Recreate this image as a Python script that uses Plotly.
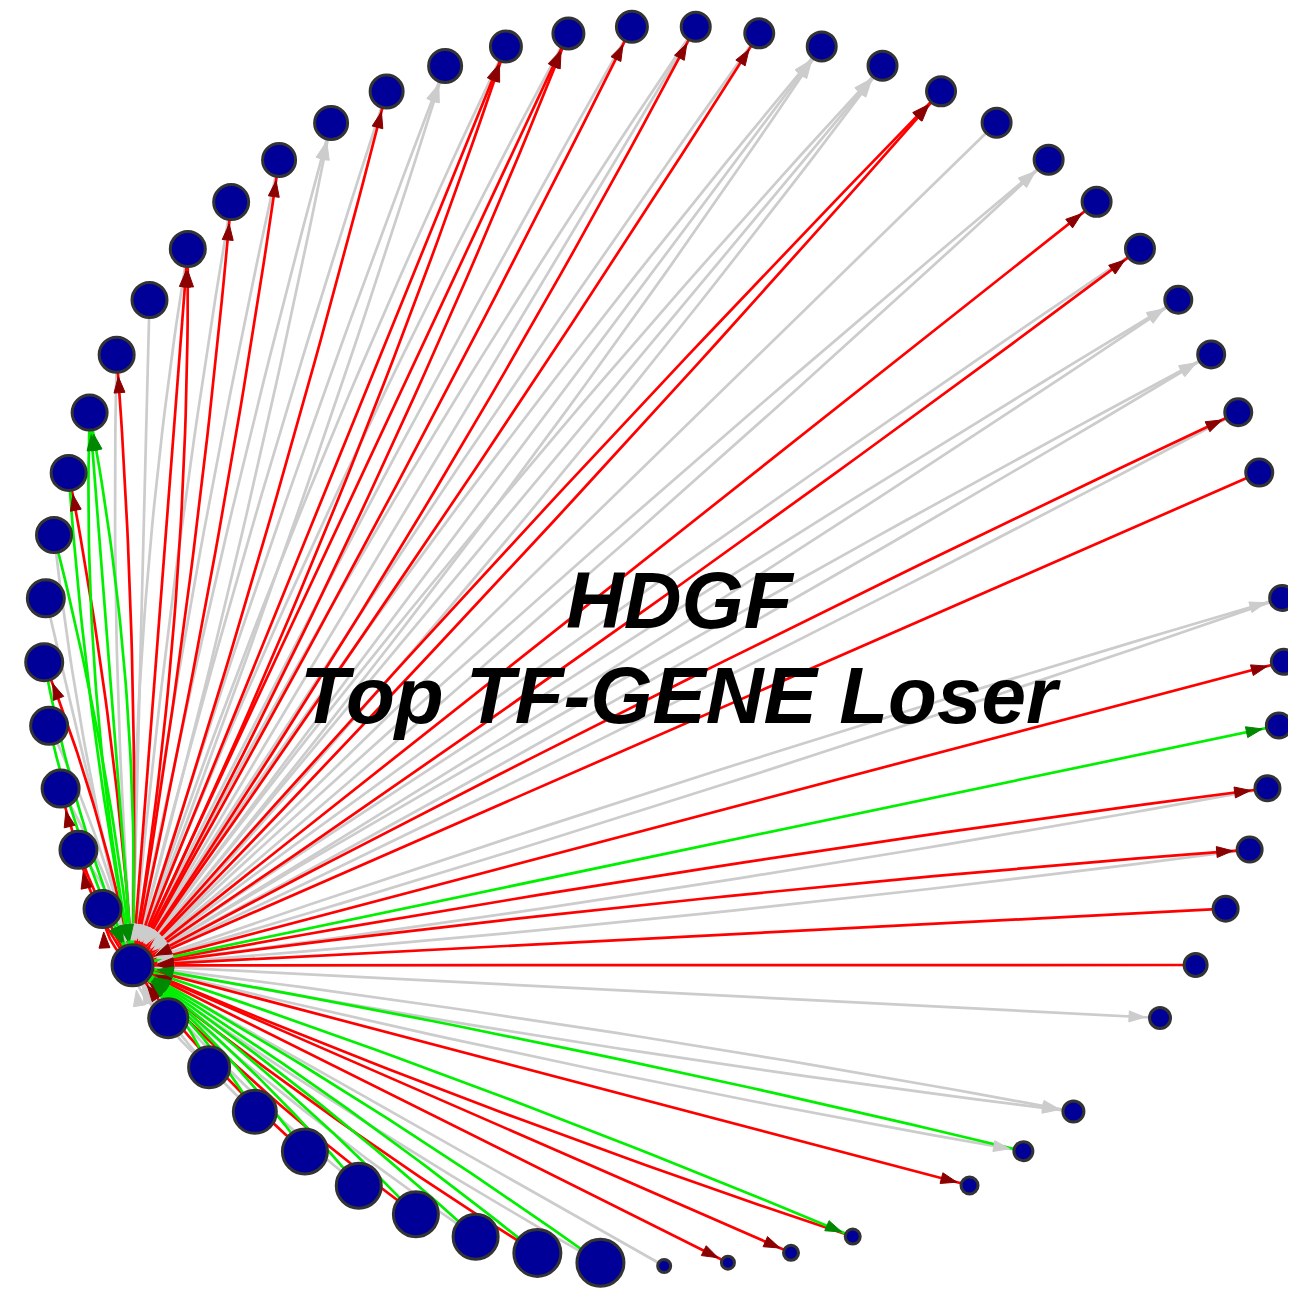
import numpy as np
import plotly.graph_objects as go
from collections import defaultdict

# ---------------- data ----------------
# ring order (clockwise from the hub); None = empty ring slot
ring_nodes = ["HDGF"] + [f"T{i:02d}" for i in range(1, 61)]
empty_slots = [34, 43, 47]
ring_nodes = [None if i in empty_slots else n for i, n in enumerate(ring_nodes)]

# node weight (drives marker size)
node_weight = [2.2,
               2.0, 2.0, 2.0, 2.0, 2.0, 2.0, 1.9, 1.9, 1.9, 1.9,
               1.9, 1.9, 1.9, 1.8, 1.8, 1.8, 1.8, 1.7, 1.7, 1.7,
               1.6, 1.6, 1.6, 1.6, 1.6, 1.6, 1.6, 1.6, 1.6, 1.5,
               1.5, 1.5, 1.5, None, 1.4, 1.4, 1.4, 1.4, 1.4, 1.4,
               1.3, 1.2, None, 1.2, 1.1, 1.0, None, 0.9, 0.9, 0.8,
               0.8, 2.5, 2.5, 2.4, 2.4, 2.4, 2.4, 2.3, 2.2, 2.1]

# edges between the hub (HDGF) and ring node: (ring index, effect, direction)
# direction "out": HDGF -> gene, "in": gene -> HDGF
edges = [
    (1, "none", "in"), (1, "up", "out"),
    (2, "none", "in"), (2, "up", "out"),
    (3, "none", "in"), (3, "up", "out"),
    (4, "none", "in"), (4, "down", "in"),
    (5, "up", "out"), (5, "down", "in"),
    (6, "none", "in"),
    (7, "down", "in"), (7, "none", "in"),
    (8, "up", "out"), (8, "down", "in"),
    (9, "down", "out"), (9, "down", "out"), (9, "down", "in"),
    (10, "up", "out"), (10, "none", "in"),
    (11, "none", "in"),
    (12, "up", "out"), (12, "up", "out"), (12, "none", "in"),
    (13, "up", "out"), (13, "none", "in"),
    (14, "up", "out"), (14, "none", "in"),
    (15, "none", "out"), (15, "none", "out"),
    (16, "up", "out"), (16, "none", "in"),
    (17, "none", "out"), (17, "none", "out"),
    (18, "up", "out"), (18, "up", "out"), (18, "none", "in"),
    (19, "up", "out"), (19, "up", "out"), (19, "none", "in"),
    (20, "up", "out"), (20, "none", "in"),
    (21, "up", "out"), (21, "none", "in"), (21, "none", "in"),
    (22, "up", "out"), (22, "none", "in"),
    (23, "none", "out"), (23, "none", "out"), (23, "none", "out"),
    (24, "none", "out"), (24, "none", "out"), (24, "none", "out"),
    (25, "up", "out"), (25, "up", "out"),
    (26, "none", "in"),
    (27, "none", "out"), (27, "none", "out"),
    (28, "up", "out"),
    (29, "up", "out"), (29, "none", "in"),
    (30, "none", "out"), (30, "none", "out"),
    (31, "none", "out"), (31, "none", "out"),
    (32, "up", "out"), (32, "none", "in"),
    (33, "up", "in"),
    (35, "none", "out"), (35, "none", "in"),
    (36, "up", "out"),
    (37, "down", "out"),
    (38, "up", "out"), (38, "none", "in"),
    (39, "up", "out"), (39, "none", "in"),
    (40, "up", "in"),
    (41, "up", "in"),
    (42, "none", "out"),
    (44, "none", "out"), (44, "none", "out"),
    (45, "down", "in"), (45, "none", "out"),
    (46, "up", "out"),
    (48, "down", "out"), (48, "up", "in"),
    (49, "up", "out"),
    (50, "up", "out"),
    (51, "none", "in"),
    (52, "down", "in"), (52, "none", "in"),
    (53, "down", "in"), (53, "up", "in"),
    (54, "down", "in"), (54, "none", "in"),
    (55, "down", "in"), (55, "up", "in"),
    (56, "down", "in"), (56, "none", "in"),
    (57, "down", "in"), (57, "up", "in"),
    (58, "down", "in"), (58, "none", "in"),
    (59, "down", "in"), (59, "none", "in"),
    (60, "down", "in"), (60, "none", "in"),
]

title_lines = ["HDGF", "Top TF-GENE Loser"]

# ---------------- styles / layout ----------------
OFF = 8                    # page body margin
W, H = 1296, 1292
CX, CY, R = 664.0, 646.0, 620.0
START_DEG = 149.0
N_SLOTS = len(ring_nodes)
SIZE_SCALE = 10.0          # px radius per weight unit
BORDER = 3.0
PAR_STEP = 30.0            # control point spacing for parallel edges
ARROW_L, ARROW_W = 16.0, 11.0

line_col = {"none": "#cccccc", "up": "#ff0000", "down": "#00f000"}
head_col = {"none": "#cccccc", "up": "#8b0000", "down": "#008800"}

def slot_pos(i):
    a = np.radians(START_DEG + 360.0 * i / N_SLOTS)
    return np.array([CX + R * np.cos(a), CY + R * np.sin(a)])

pos = {i: slot_pos(i) for i, n in enumerate(ring_nodes) if n is not None}
rad = {i: node_weight[i] * SIZE_SCALE for i in pos}
center = np.array([CX, CY])

groups = defaultdict(list)
for k, (tgt, eff, d) in enumerate(edges):
    groups[tgt].append(k)

line_xy = {c: ([], []) for c in line_col}
head_xy = {c: ([], []) for c in head_col}

t = np.linspace(0, 1, 40)[:, None]
for tgt, ks in groups.items():
    p0 = pos[0]
    p2 = pos[tgt]
    mid = (p0 + p2) / 2
    d = p2 - p0
    nrm = np.array([-d[1], d[0]]) / np.linalg.norm(d)
    if np.dot(nrm, mid - center) < 0:
        nrm = -nrm
    n = len(ks)
    for j, k in enumerate(ks):
        _, eff, direction = edges[k]
        off = (j - (n - 1) / 2.0) * PAR_STEP
        c = mid + nrm * off
        pts = (1 - t) ** 2 * p0 + 2 * (1 - t) * t * c + t ** 2 * p2
        lx, ly = line_xy[eff]
        lx.extend(list(pts[:, 0]) + [None])
        ly.extend(list(pts[:, 1]) + [None])
        if direction == "out":
            end, r_end = p2, rad[tgt]
        else:
            end, r_end = p0, rad[0]
        u = end - c
        u = u / np.linalg.norm(u)
        pu = np.array([-u[1], u[0]])
        tip = end - u * (r_end + 3.0)
        base = tip - u * ARROW_L
        poly = [tip, base + pu * ARROW_W / 2, base - pu * ARROW_W / 2, tip]
        hx, hy = head_xy[eff]
        hx.extend([p[0] for p in poly] + [None])
        hy.extend([p[1] for p in poly] + [None])

fig = go.Figure()
for eff in ["none", "up", "down"]:
    lx, ly = line_xy[eff]
    fig.add_trace(go.Scatter(x=lx, y=ly, mode="lines",
                             line=dict(color=line_col[eff], width=2.7),
                             hoverinfo="skip", showlegend=False))
for eff in ["none", "up", "down"]:
    hx, hy = head_xy[eff]
    fig.add_trace(go.Scatter(x=hx, y=hy, mode="lines", fill="toself",
                             fillcolor=head_col[eff],
                             line=dict(color=head_col[eff], width=1),
                             hoverinfo="skip", showlegend=False))

ids = list(pos.keys())
fig.add_trace(go.Scatter(
    x=[pos[i][0] for i in ids], y=[pos[i][1] for i in ids],
    mode="markers", text=[ring_nodes[i] for i in ids], hoverinfo="text",
    cliponaxis=False,
    marker=dict(size=[2 * rad[i] - BORDER for i in ids], color="#000099",
                opacity=1, line=dict(color="#333333", width=BORDER)),
    showlegend=False))

for txt, yy in zip(title_lines, [600, 695]):
    fig.add_annotation(x=680, y=yy, text=txt, showarrow=False,
                       xanchor="center", yanchor="middle",
                       font=dict(family="Liberation Sans, Arial", size=80,
                                 color="black", weight="bold", style="italic"))

FW, FH = W - OFF, H - OFF
fig.update_layout(width=FW, height=FH,
                  margin=dict(l=0, r=0, t=0, b=0, pad=0),
                  paper_bgcolor="white", plot_bgcolor="white")
fig.update_xaxes(range=[OFF, OFF + FW], visible=False, showgrid=False, zeroline=False)
fig.update_yaxes(range=[OFF + FH, OFF], visible=False, showgrid=False, zeroline=False)

fig.write_html("out.html")
